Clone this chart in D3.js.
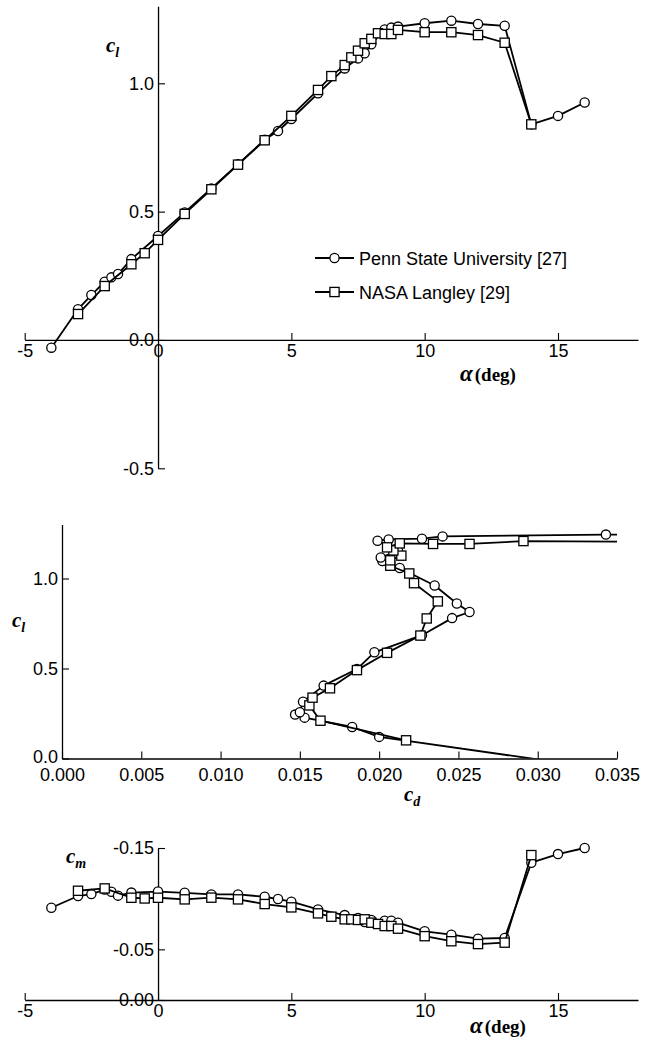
<!DOCTYPE html>
<html><head><meta charset="utf-8">
<script src="https://cdn.jsdelivr.net/npm/d3@7"></script>
<style>
html,body{margin:0;padding:0;background:#fff;}
svg{display:block;}
.tick text{font-family:"Liberation Sans",Arial,Helvetica,sans-serif;font-size:18px;fill:#000;}
</style></head>
<body>
<svg id="chart" width="649" height="1043"></svg>
<script>
// ---- Data ----
const seriesNames = ["Penn State University [27]", "NASA Langley [29]"];

const alphaPSU = [-4,-3,-2.5,-2,-1.75,-1.5,-1,0,1,2,3,4,4.5,5,6,7,7.5,7.75,8,8.5,8.75,9,10,11,12,13,14,15,16];
const clPSU    = [-0.03,0.12,0.175,0.227,0.244,0.257,0.315,0.405,0.497,0.59,0.685,0.78,0.814,0.861,0.961,1.058,1.097,1.117,1.152,1.21,1.217,1.221,1.234,1.244,1.231,1.224,0.84,0.873,0.925];
const cdPSU    = [0.032,0.0200,0.0183,0.0153,0.0147,0.0150,0.0152,0.0165,0.0186,0.0197,0.0227,0.0246,0.0257,0.0249,0.0235,0.0213,0.0202,0.0201,0.0212,0.0199,0.0206,0.0227,0.0240,0.0343,0.050,0.065,0.12,0.13,0.14];
const cmPSU    = [-0.091,-0.1026,-0.1045,-0.109,-0.1068,-0.103,-0.106,-0.107,-0.1058,-0.1042,-0.1042,-0.1019,-0.0996,-0.097,-0.0894,-0.0838,-0.081,-0.077,-0.079,-0.0783,-0.0783,-0.0763,-0.0678,-0.0645,-0.0605,-0.0612,-0.1355,-0.144,-0.15];

const alphaNASA = [-3,-2,-1,-0.5,0,1,2,3,4,5,6,6.5,7,7.25,7.5,7.75,8,8.25,8.5,8.75,9,10,11,12,13,14];
const clNASA    = [0.101,0.21,0.295,0.338,0.39,0.491,0.587,0.683,0.778,0.873,0.974,1.028,1.071,1.101,1.127,1.156,1.173,1.195,1.192,1.192,1.208,1.199,1.199,1.188,1.158,0.84];
const cdNASA    = [0.0217,0.0163,0.0156,0.0158,0.0169,0.0186,0.0205,0.0226,0.0230,0.0237,0.0222,0.0219,0.0207,0.0207,0.0214,0.0209,0.0205,0.0213,0.0234,0.0257,0.0291,0.045,0.055,0.065,0.08,0.15];
const cmNASA    = [-0.1078,-0.1101,-0.1009,-0.1002,-0.1009,-0.0993,-0.101,-0.0993,-0.0947,-0.0914,-0.0855,-0.0822,-0.0796,-0.0796,-0.079,-0.0796,-0.0763,-0.075,-0.073,-0.073,-0.0704,-0.063,-0.058,-0.0552,-0.0566,-0.143];

const alphaTicks = [-5,0,5,10,15];
const clTicks = [-0.5,0.0,0.5,1.0];
const clPolarTicks = [0.0,0.5,1.0];
const cdTicks = [0.000,0.005,0.010,0.015,0.020,0.025,0.030,0.035];
const cmTicks = [-0.15,-0.05,0.00];

// ---- Setup ----
const svg = d3.select("#chart");
svg.append("rect").attr("width",649).attr("height",1043).attr("fill","#fff");
const defs = svg.append("defs");

function zip(a,b){ return a.map((v,i)=>[v,b[i]]); }
function fmt(spec){ const f = d3.format(spec); return v => f(v).replace("\u2212","-"); }

function drawAxes(g, x, y, xAt, yAt, xMaj, yMaj, xMin, yMin, xFmt, yFmt){
  const gx = g.append("g").attr("transform",`translate(0,${y(xAt)})`);
  gx.call(d3.axisBottom(x).tickValues(xMin).tickFormat("").tickSize(-4).tickSizeOuter(0));
  gx.call(d3.axisBottom(x).tickValues(xMaj).tickFormat(xFmt).tickSize(-7).tickSizeOuter(0).tickPadding(4));
  const gy = g.append("g").attr("transform",`translate(${x(yAt)},0)`);
  gy.call(d3.axisLeft(y).tickValues(yMin).tickFormat("").tickSize(-4).tickSizeOuter(0));
  gy.call(d3.axisLeft(y).tickValues(yMaj).tickFormat(yFmt).tickSize(-7).tickSizeOuter(0).tickPadding(4));
  g.selectAll(".domain").attr("stroke","#000").attr("stroke-width",1.3);
  g.selectAll(".tick line").attr("stroke","#000").attr("stroke-width",1.1);
  return {gx, gy};
}

function drawSeries(g, pts, marker, clipId){
  const line = d3.line();
  const gg = g.append("g");
  if (clipId) gg.attr("clip-path",`url(#${clipId})`);
  gg.append("path").attr("d", line(pts)).attr("fill","none").attr("stroke","#000").attr("stroke-width",1.8).attr("stroke-linejoin","round");
  if (marker === "circle") {
    gg.selectAll("circle.m").data(pts).join("circle").attr("class","m")
      .attr("cx",d=>d[0]).attr("cy",d=>d[1]).attr("r",4.6)
      .attr("fill","#fff").attr("stroke","#000").attr("stroke-width",1.3);
  } else {
    gg.selectAll("rect.m").data(pts).join("rect").attr("class","m")
      .attr("x",d=>d[0]-4.6).attr("y",d=>d[1]-4.6).attr("width",9.2).attr("height",9.2)
      .attr("fill","#fff").attr("stroke","#000").attr("stroke-width",1.3);
  }
}

function range(a,b,s){ const r=[]; for(let v=a; v<=b+1e-9; v+=s) r.push(+v.toFixed(4)); return r; }

function clLabel(g, x, y, sub){
  const t = g.append("text").attr("x",x).attr("y",y)
    .attr("font-family","'Liberation Serif','Times New Roman',serif").attr("font-style","italic").attr("font-weight","bold")
    .attr("font-size",21).attr("fill","#000");
  t.append("tspan").text("c");
  t.append("tspan").attr("font-size",14).attr("dy",5).text(sub);
}
function alphaLabel(g, x, y){
  const t = g.append("text").attr("x",x).attr("y",y).attr("fill","#000")
    .attr("font-family","'Liberation Serif','Times New Roman',serif").attr("font-weight","bold");
  t.append("tspan").attr("font-style","italic").attr("font-size",23).text("α");
  t.append("tspan").attr("font-size",19).attr("dx",2).text("(deg)");
}

// ---- Plot 1: cl vs alpha ----
const x1 = d3.scaleLinear().domain([-5,18]).range([24.7,638]);
const y1 = d3.scaleLinear().domain([-0.5,1.3]).range([468.3,6.3]);
const g1 = svg.append("g");
drawAxes(g1, x1, y1, 0, 0, alphaTicks, clTicks, range(-5,18,1), range(-0.5,1.3,0.1), fmt("d"), fmt(".1f"));
drawSeries(g1, zip(alphaPSU,clPSU).map(d=>[x1(d[0]),y1(d[1])]), "circle");
drawSeries(g1, zip(alphaNASA,clNASA).map(d=>[x1(d[0]),y1(d[1])]), "square");
clLabel(svg, 106, 52, "l");
alphaLabel(svg, 460, 381);

// legend
const leg = svg.append("g");
[["circle",258],["square",292]].forEach((m,i)=>{
  const yy = m[1];
  leg.append("line").attr("x1",315).attr("x2",354).attr("y1",yy).attr("y2",yy).attr("stroke","#000").attr("stroke-width",1.8);
  if (m[0]==="circle") leg.append("circle").attr("cx",334.5).attr("cy",yy).attr("r",4.6).attr("fill","#fff").attr("stroke","#000").attr("stroke-width",1.3);
  else leg.append("rect").attr("x",334.5-4.6).attr("y",yy-4.6).attr("width",9.2).attr("height",9.2).attr("fill","#fff").attr("stroke","#000").attr("stroke-width",1.3);
  leg.append("text").attr("x",359).attr("y",yy+6.5).attr("font-family","'Liberation Sans',Arial,sans-serif").attr("font-size",18).attr("fill","#000").text(seriesNames[i]);
});

// ---- Plot 2: cl vs cd ----
const x2 = d3.scaleLinear().domain([0,0.035]).range([62,617]);
const y2 = d3.scaleLinear().domain([0,1.3]).range([758.5,524.5]);
defs.append("clipPath").attr("id","clip2").append("rect").attr("x",62).attr("y",500).attr("width",555).attr("height",258.5);
const g2 = svg.append("g");
const ax2 = drawAxes(g2, x2, y2, 0, 0, cdTicks, clPolarTicks, range(0,0.035,0.001), range(0,1.3,0.1), fmt(".3f"), fmt(".1f"));
ax2.gx.selectAll(".tick text").attr("dy","1.0em");
ax2.gy.selectAll(".tick text").filter(d=>d===0).attr("dy","0.2em");
drawSeries(g2, zip(cdPSU,clPSU).map(d=>[x2(d[0]),y2(d[1])]), "circle", "clip2");
drawSeries(g2, zip(cdNASA,clNASA).map(d=>[x2(d[0]),y2(d[1])]), "square", "clip2");
clLabel(svg, 12, 627, "l");
clLabel(svg, 404, 801, "d");

// ---- Plot 3: cm vs alpha ----
const x3 = x1.copy();
const y3 = d3.scaleLinear().domain([0,-0.15]).range([1000,848]);
const g3 = svg.append("g");
drawAxes(g3, x3, y3, 0, 0, alphaTicks, cmTicks, range(-5,18,1), range(-0.15,0,0.01), fmt("d"), fmt(".2f"));
drawSeries(g3, zip(alphaPSU,cmPSU).map(d=>[x3(d[0]),y3(d[1])]), "circle");
drawSeries(g3, zip(alphaNASA,cmNASA).map(d=>[x3(d[0]),y3(d[1])]), "square");
clLabel(svg, 66, 863, "m");
alphaLabel(svg, 470, 1033);
</script>
</body></html>
